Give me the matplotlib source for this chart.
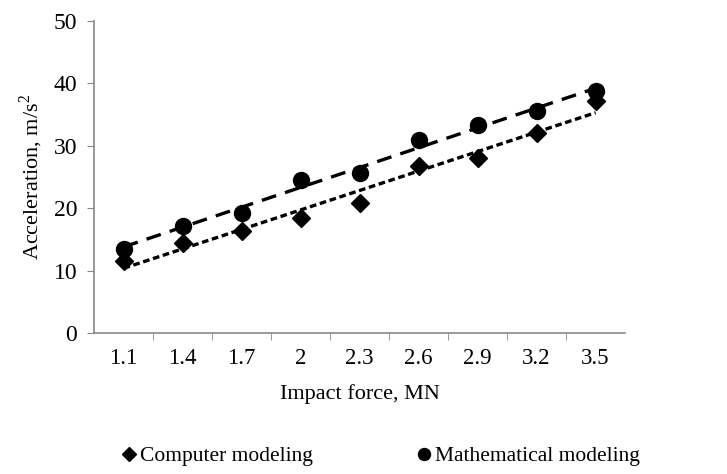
import matplotlib
matplotlib.use("Agg")
import matplotlib.pyplot as plt
from matplotlib.ticker import FixedLocator
import numpy as np

plt.rcParams["font.family"] = ["Liberation Serif", "DejaVu Serif"]
plt.rcParams["mathtext.fontset"] = "custom"
plt.rcParams["mathtext.rm"] = "Liberation Serif"

force = ["1.1", "1.4", "1.7", "2", "2.3", "2.6", "2.9", "3.2", "3.5"]
computer = [11.5, 14.5, 16.3, 18.4, 20.8, 26.7, 28.1, 32.1, 37.1]
mathematical = [13.5, 17.2, 19.2, 24.5, 25.6, 31.0, 33.3, 35.5, 38.8]

x = np.arange(1, len(force) + 1)

fig = plt.figure(figsize=(7.27, 4.74), dpi=100)
ax = fig.add_axes([0.1293, 0.2975, 0.7305, 0.6582])

ax.plot(x, computer, ls="none", marker="D", ms=9, color="black",
        label="Computer modeling")
ax.plot(x, mathematical, ls="none", marker="o", ms=11.5, color="black",
        label="Mathematical modeling")

# linear trendlines, as in the spreadsheet original
for vals, dash in [(computer, (0, (2.0, 1.1))), (mathematical, (0, (4.5, 2.8)))]:
    k, b = np.polyfit(x, vals, 1)
    ax.plot(x, k * x + b, color="black", lw=2.4, ls=dash)

ax.set_xlim(0.5, len(force) + 0.5)
ax.set_ylim(0, 50)
ax.set_yticks(range(0, 51, 10))
ax.set_xticks(x)
ax.set_xticklabels(force)
ax.xaxis.set_minor_locator(FixedLocator(np.arange(1.5, len(force), 1)))
ax.tick_params(axis="x", which="major", length=0, pad=11, labelsize=16.5)
ax.tick_params(axis="x", which="minor", length=5, color="#888888", direction="out")
ax.tick_params(axis="y", length=5, color="#888888", labelsize=17, pad=7)

for s in ["top", "right"]:
    ax.spines[s].set_visible(False)
for s in ["left", "bottom"]:
    ax.spines[s].set_color("#888888")
    ax.spines[s].set_linewidth(1.2)

ax.set_xlabel("Impact force, MN", fontsize=16, labelpad=11)
ax.set_ylabel("Acceleration, m/s$^2$", fontsize=16, labelpad=6)

fig.legend(loc="lower center", bbox_to_anchor=(0.525, -0.025), ncol=2,
           frameon=False, fontsize=15.5, handlelength=0.5, handletextpad=0.25,
           columnspacing=4.9, markerscale=0.75)

fig.savefig("out.png", dpi=100)
